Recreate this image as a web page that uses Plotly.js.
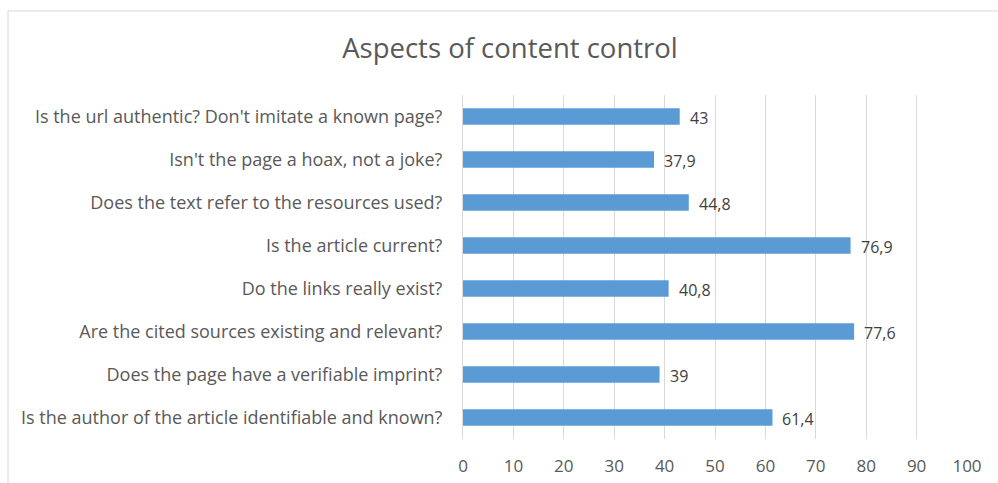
<!DOCTYPE html>
<html><head><meta charset="utf-8">
<script src="https://cdn.plot.ly/plotly-3.0.1.min.js"></script>
<style>body{margin:0;background:#fff}#chart{width:998px;height:483px}</style>
</head><body><div id="chart"></div>
<script>
const categories = [
  "Is the author of the article identifiable and known?",
  "Does the page have a verifiable imprint?",
  "Are the cited sources existing and relevant?",
  "Do the links really exist?",
  "Is the article current?",
  "Does the text refer to the resources used?",
  "Isn't the page a hoax, not a joke?",
  "Is the url authentic? Don't imitate a known page?"
];
const values = [61.4, 39, 77.6, 40.8, 76.9, 44.8, 37.9, 43];
const labels = values.map(v => String(v).replace('.', ','));
const xTicks = [0,10,20,30,40,50,60,70,80,90,100];

const font = 'Open Sans, Noto Sans, sans-serif';
const trace = {
  type: 'bar', orientation: 'h',
  y: categories, x: values,
  marker: {color: '#5b9bd5'},
  hoverinfo: 'none'
};
const annotations = values.map((v, i) => ({
  x: v, y: categories[i], xref: 'x', yref: 'y', text: labels[i], showarrow: false,
  xanchor: 'left', yanchor: 'middle', xshift: 8, yshift: -1,
  font: {family: font, size: 16, color: '#404040'}
}));
const layout = {
  width: 998, height: 483,
  margin: {l: 463, r: 31, t: 95, b: 44},
  paper_bgcolor: '#fff', plot_bgcolor: '#fff',
  bargap: 0.62,
  showlegend: false,
  font: {family: font, size: 16, color: '#595959'},
  title: {text: 'Aspects of content control', font: {family: font, size: 27.5, color: '#595959'},
          x: 0.511, xref: 'container', xanchor: 'center', y: 0.9, yref: 'container', yanchor: 'middle'},
  xaxis: {range: [0, 100], tickvals: xTicks, ticktext: xTicks.map(String), showgrid: true,
          gridcolor: '#d9d9d9', gridwidth: 1, zeroline: false, showline: false, ticks: '',
          ticklabelstandoff: 15, tickfont: {family: font, size: 17, color: '#595959'}, fixedrange: true},
  yaxis: {showgrid: false, zeroline: false, showline: true, linecolor: '#d9d9d9', linewidth: 1,
          ticks: '', ticklabelstandoff: 16, tickfont: {family: font, size: 18, color: '#595959'}, fixedrange: true},
  annotations: annotations,
  shapes: [
    {type: 'line', xref: 'paper', yref: 'paper', x0: -0.9028, x1: 1.1, y0: 1.2442, y1: 1.2442, line: {color: '#d9d9d9', width: 1}},
    {type: 'line', xref: 'paper', yref: 'paper', x0: -0.9028, x1: -0.9028, y0: 1.2442, y1: -0.2, line: {color: '#d9d9d9', width: 1}}
  ]
};
Plotly.newPlot('chart', [trace], layout, {displayModeBar: false, staticPlot: true});
</script></body></html>
